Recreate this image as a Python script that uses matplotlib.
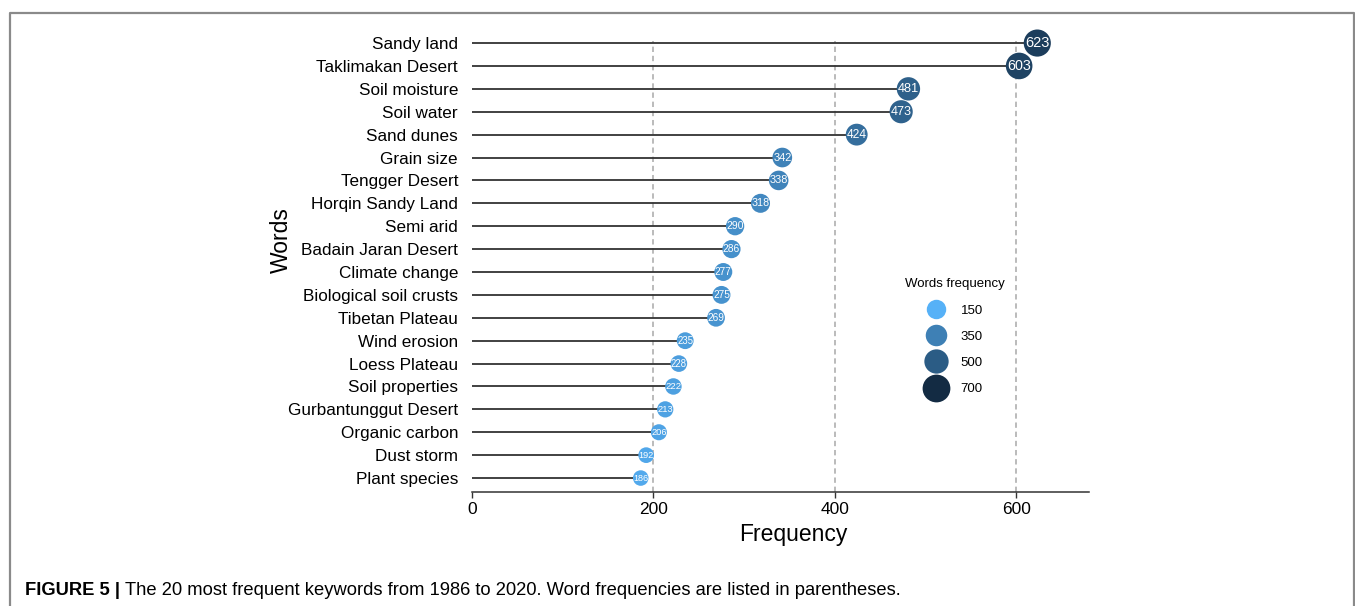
import numpy as np
import matplotlib
matplotlib.use("Agg")
import matplotlib.pyplot as plt
from matplotlib.colors import LinearSegmentedColormap, Normalize
from matplotlib.lines import Line2D

plt.rcParams["font.family"] = ["Liberation Sans", "DejaVu Sans"]

# data, top to bottom as in the chart
words = ["Sandy land", "Taklimakan Desert", "Soil moisture", "Soil water", "Sand dunes",
         "Grain size", "Tengger Desert", "Horqin Sandy Land", "Semi arid", "Badain Jaran Desert",
         "Climate change", "Biological soil crusts", "Tibetan Plateau", "Wind erosion",
         "Loess Plateau", "Soil properties", "Gurbantunggut Desert", "Organic carbon",
         "Dust storm", "Plant species"]
freq = [623, 603, 481, 473, 424, 342, 338, 318, 290, 286,
        277, 275, 269, 235, 228, 222, 213, 206, 192, 186]
legend_vals = [150, 350, 500, 700]
xticks = [0, 200, 400, 600]

cmap = LinearSegmentedColormap.from_list("wf", ["#56B1F7", "#132B43"])
norm = Normalize(150, 700)


def diam(v):
    # marker diameter in points
    return 10.5 + (v - 150) * 10.5 / 550


fig = plt.figure(figsize=(13.55, 6.06), dpi=100)
ax = fig.add_axes([0.3483, 0.1881, 0.8037 - 0.3483, 0.952 - 0.1881])

n = len(words)
ypos = np.arange(n)[::-1]

ax.vlines(xticks[1:], -0.61, n - 1 + 0.1, color="#a8a8a8", lw=1.1, ls=(0, (3.5, 2.5)), zorder=0)

ax.hlines(ypos, 0, freq, color="#333333", lw=1.3, zorder=1)
ax.scatter(freq, ypos, s=[diam(v) ** 2 for v in freq], c=[cmap(norm(v)) for v in freq],
           edgecolors="none", zorder=2)
for v, y in zip(freq, ypos):
    ax.text(v, y, str(v), color="white", ha="center", va="center",
            fontsize=6.5 + (v - 186) * 4.0 / 437, zorder=3)

ax.set_xlim(0, 680)
ax.set_ylim(-0.61, n - 1 + 0.61)
ax.set_yticks(ypos)
ax.set_yticklabels(words, fontsize=12.3)
ax.set_xticks(xticks)
ax.tick_params(axis="y", length=0, pad=10)
ax.tick_params(axis="x", length=4, width=1, color="#333333", labelsize=12.5, pad=3)
for s in ["top", "right", "left"]:
    ax.spines[s].set_visible(False)
ax.spines["bottom"].set_color("#333333")
ax.spines["bottom"].set_linewidth(1.1)
ax.set_xlabel("Frequency", fontsize=16.5)
ax.set_ylabel("Words", fontsize=16.5)
ax.xaxis.set_label_coords(0.52, -0.068)
ax.yaxis.set_label_coords(-0.29, 0.544)

leg_sizes = [14, 15.5, 17.5, 20]
handles = [Line2D([], [], ls="none", marker="o", markersize=m,
                  markerfacecolor=cmap(norm(v)), markeredgecolor="none")
           for v, m in zip(legend_vals, leg_sizes)]
leg = ax.legend(handles, [str(v) for v in legend_vals], title="Words frequency",
                frameon=False, fontsize=9.5, title_fontsize=9.5, loc="upper left",
                bbox_to_anchor=(0.682, 0.487), labelspacing=1.06, handletextpad=1.1,
                handlelength=1.5)

# figure frame (open at bottom)
fig.add_artist(Line2D([0.0074, 0.0074, 0.9993, 0.9993], [0.0, 0.979, 0.979, 0.0],
                      transform=fig.transFigure, color="#8a8a8a", lw=1.6))

cap1 = fig.text(0.0185, 0.025, "FIGURE 5 |", fontsize=13.2, fontweight="bold", va="center")
fig.canvas.draw()
bb = cap1.get_window_extent().transformed(fig.transFigure.inverted())
fig.text(bb.x1 + 0.004, 0.025,
         "The 20 most frequent keywords from 1986 to 2020. Word frequencies are listed in parentheses.",
         fontsize=13.2, va="center")

fig.savefig("out.png", dpi=100)
